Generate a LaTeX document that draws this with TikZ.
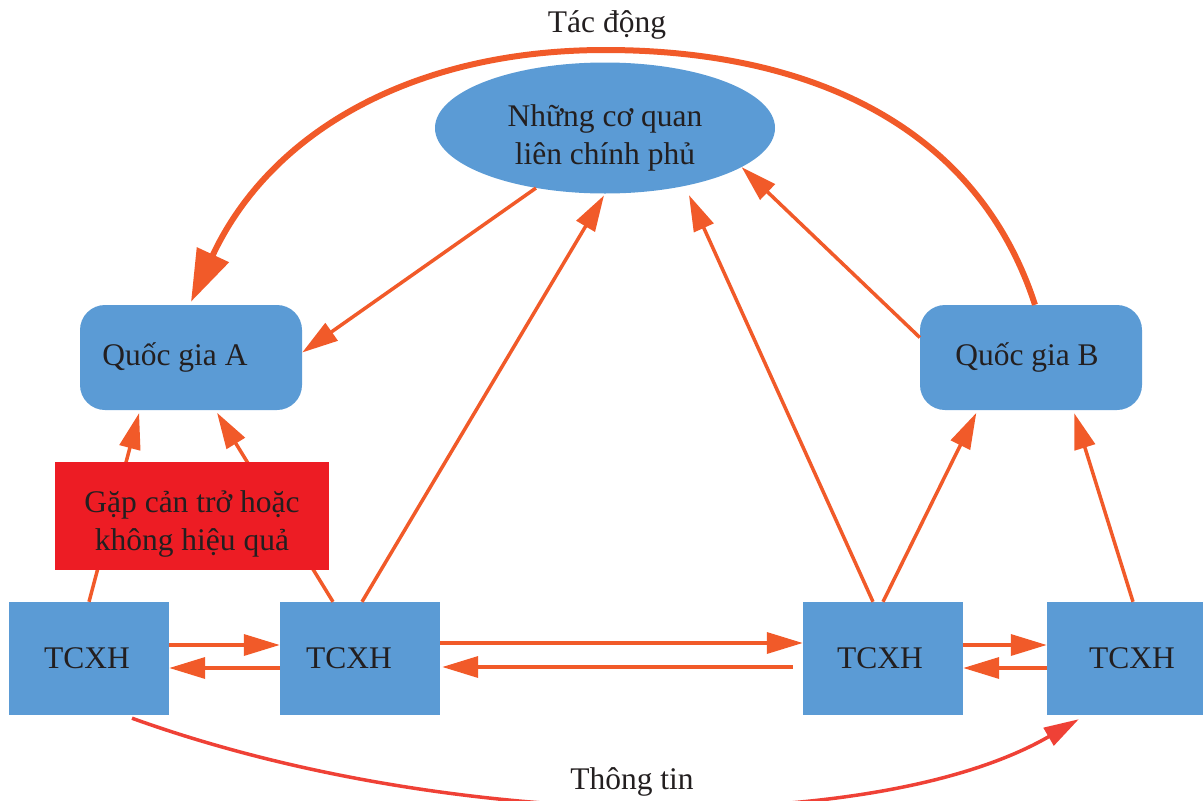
\documentclass[tikz,border=0pt]{standalone}
\usepackage{fontspec}
\setmainfont{Liberation Serif}
\usetikzlibrary{arrows.meta,shapes.geometric,calc}
\definecolor{boxblue}{HTML}{5B9BD5}
\definecolor{arrorange}{HTML}{F15A29}
\definecolor{infored}{HTML}{EF4136}
\definecolor{warnred}{HTML}{ED1C24}
\definecolor{txt}{HTML}{231F20}
\begin{document}
\begin{tikzpicture}[x=1pt,y=1pt,
  every node/.style={font=\fontsize{31.5}{38}\selectfont, text=txt, inner sep=0pt},
  orgbox/.style={rectangle, fill=boxblue, minimum width=160pt, minimum height=113pt},
  statebox/.style={rectangle, rounded corners=25pt, fill=boxblue, minimum width=222pt, minimum height=105pt},
  govell/.style={ellipse, fill=boxblue, minimum width=340pt, minimum height=131pt, align=center},
  warnbox/.style={rectangle, fill=warnred, minimum width=274pt, minimum height=108pt, align=center},
  link/.style={draw=arrorange, line width=3.5pt, -{Triangle[length=36pt,width=21pt]}},
  biglink/.style={draw=arrorange, line width=6pt, -{Triangle[length=52pt,width=34pt]}},
  infolink/.style={draw=infored, line width=3.5pt, -{Triangle[length=35pt,width=20pt]}}]
\useasboundingbox (0,0) rectangle (1203,-801);
\clip (0,0) rectangle (1203,-801);

% nodes
\node[govell] (ell) at (605,-128) {\rule{0pt}{42pt}Những cơ quan\\liên chính phủ};
\node[statebox] (qa) at (191,-357.5) {\hspace*{-32pt}Quốc gia A};
\node[statebox] (qb) at (1031,-357.5) {\hspace*{-8pt}Quốc gia B};
\node[orgbox] (t1) at (89,-658.5) {\hspace*{-4pt}TCXH};
\node[orgbox] (t2) at (360,-658.5) {\hspace*{-22pt}TCXH};
\node[orgbox] (t3) at (883,-658.5) {\hspace*{-6pt}TCXH};
\node[orgbox, minimum width=156pt] (t4) at (1125,-658.5) {\hspace*{14pt}TCXH};
\node (tacdong) at (607,-25) {Tác động};
\node (thongtin) at (632,-782) {Thông tin};

% arrows behind the red box
\draw[link, shorten >=3pt] (t1.north) -- ($(qa.south west)!0.27!(qa.south east)$);
\draw[link, shorten >=3pt] ([xshift=-27pt]t2.north) -- ($(qa.south west)!0.61!(qa.south east)$);
\node[warnbox] (warn) at (192,-516) {\rule{0pt}{38pt}Gặp cản trở hoặc\\không hiệu quả};

% arrows to and from the intergovernmental bodies
\draw[link] (ell.221) -- ([yshift=5pt]qa.east);
\draw[link, shorten >=2pt] ([xshift=2pt]t2.north) -- (ell.south);
\draw[link, shorten >=10pt] ([xshift=-10pt]t3.north) -- (ell.-36.6);
\draw[link] ([yshift=20pt]qb.west) -- (ell.-16);
\draw[link, shorten >=3pt] (t3.north) -- ($(qb.south west)!0.26!(qb.south east)$);
\draw[link, shorten >=3pt] ([xshift=8pt]t4.north) -- ($(qb.south west)!0.69!(qb.south east)$);

% horizontal exchanges
\draw[link] ([yshift=13.5pt]t1.east) -- ([yshift=13.5pt]t2.west);
\draw[link] ([yshift=-9.5pt]t2.west) -- ([yshift=-9.5pt]t1.east);
\draw[link] ([yshift=15.5pt]t2.east) -- ([yshift=15.5pt]t3.west);
\draw[link] ([xshift=-10pt,yshift=-8.5pt]t3.west) -- ([xshift=2pt,yshift=-8.5pt]t2.east);
\draw[link] ([yshift=13.5pt]t3.east) -- ([yshift=13.5pt]t4.west);
\draw[link] ([yshift=-9.5pt]t4.west) -- ([yshift=-9.5pt]t3.east);

% big arc
\coordinate (peak) at (605,-50);
\draw[biglink] ([xshift=4pt]qb.north) to[out=108,in=0] (peak) to[out=180,in=65] ([yshift=3pt]qa.north);

% information arc
\draw[infolink] ([xshift=43pt,yshift=-3pt]t1.south) .. controls +(322,-116) and +(-200,-116) .. ([xshift=32pt,yshift=-4pt]t4.south west);
\end{tikzpicture}
\end{document}
